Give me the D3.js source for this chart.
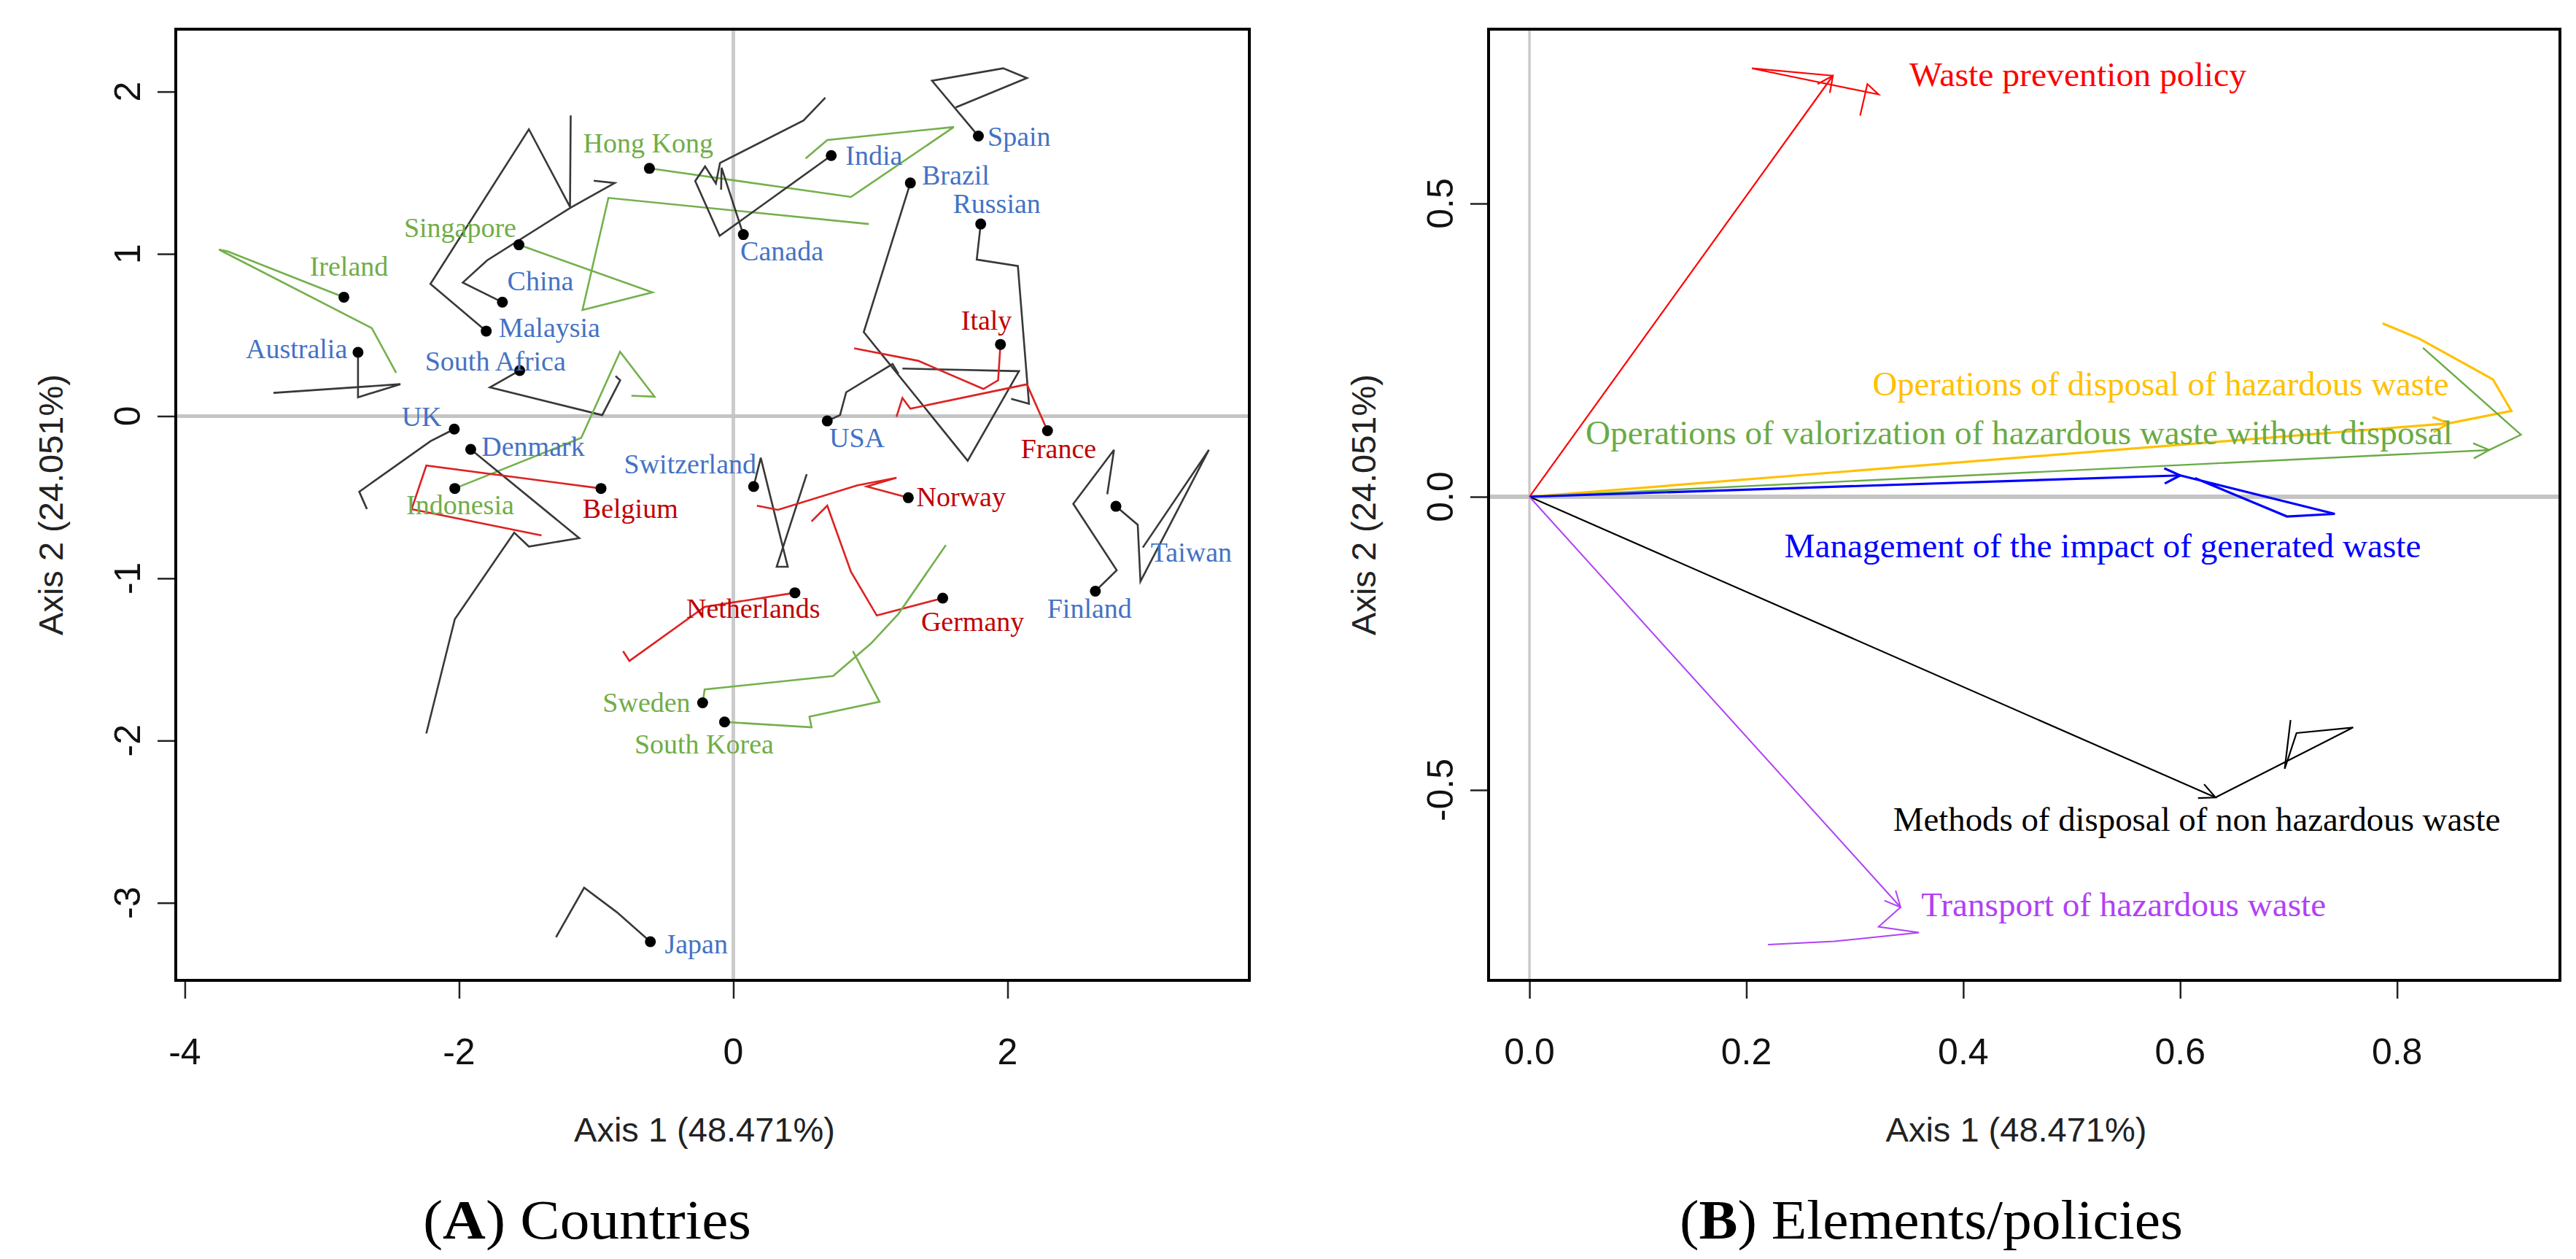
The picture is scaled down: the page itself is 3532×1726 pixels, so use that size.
<!DOCTYPE html>
<html><head><meta charset="utf-8">
<script src="https://cdn.jsdelivr.net/npm/d3@7"></script>
<style>body{margin:0;background:#fff}</style>
</head><body>
<svg id="chart" width="3532" height="1726"></svg>
<script>
// ---------- Panel A data: countries ----------
const countries = ["Hong Kong","Singapore","Ireland","Australia","China","Malaysia","South Africa","Indonesia","UK","Denmark","Belgium","Switzerland","Norway","Netherlands","Germany","Sweden","South Korea","Japan","Finland","Taiwan","Spain","India","Canada","Brazil","USA","Russian","Italy","France"];
const countryGroup = ["g","g","g","b","b","b","b","g","b","b","r","b","r","r","r","g","g","b","b","b","b","b","b","b","b","b","r","r"];
const dotX = [-0.612,-1.564,-2.840,-2.737,-1.684,-1.802,-1.558,-2.031,-2.035,-1.915,-0.965,0.148,1.276,0.449,1.527,-0.224,-0.064,-0.605,2.640,2.790,1.787,0.714,0.073,1.291,0.685,1.804,1.948,2.291];
const dotY = [1.527,1.056,0.733,0.393,0.702,0.524,0.281,-0.446,-0.080,-0.205,-0.446,-0.434,-0.503,-1.089,-1.122,-1.767,-1.885,-3.240,-1.079,-0.556,1.726,1.606,1.119,1.437,-0.030,1.184,0.442,-0.090];
const labelX = [-0.621,-1.992,-2.803,-3.185,-1.407,-1.341,-1.735,-1.992,-2.273,-1.460,-0.751,-0.315,1.661,0.145,1.745,-0.633,-0.213,-0.270,2.597,3.340,2.084,1.026,0.354,1.622,0.902,1.921,1.846,2.372];
const labelY = [1.682,1.160,0.923,0.414,0.835,0.548,0.341,-0.545,-0.004,-0.185,-0.569,-0.295,-0.498,-1.187,-1.268,-1.767,-2.021,-3.255,-1.187,-0.838,1.726,1.606,1.020,1.485,-0.134,1.311,0.592,-0.201];
const trails = [
  [[0.858,1.351],[1.608,1.782],[0.685,1.702],[0.527,1.588]],
  [[-0.590,0.763],[-1.100,0.654],[-0.911,1.345],[0.988,1.184]],
  [[-3.689,1.016],[-3.750,1.026],[-2.636,0.542],[-2.459,0.267]],
  [[-2.737,0.116],[-2.428,0.197],[-3.354,0.143]],
  [[-1.973,0.823],[-1.796,0.960],[-1.186,1.285],[-0.865,1.437],[-1.018,1.451]],
  [[-2.209,0.815],[-1.491,1.768],[-1.191,1.290],[-1.186,1.853]],
  [[-1.775,0.177],[-0.956,0.006],[-0.825,0.221],[-0.859,0.247]],
  [[-1.109,-0.134],[-0.826,0.397],[-0.575,0.120],[-0.743,0.126]],
  [[-2.209,-0.155],[-2.728,-0.466],[-2.672,-0.573]],
  [[-1.124,-0.752],[-1.491,-0.804],[-1.598,-0.718],[-2.031,-1.251],[-2.239,-1.956]],
  [[-2.239,-0.305],[-2.346,-0.574],[-1.399,-0.735]],
  [[0.200,-0.257],[0.397,-0.929],[0.316,-0.929],[0.535,-0.358]],
  [[0.973,-0.434],[1.190,-0.380],[0.902,-0.427],[0.325,-0.578],[0.172,-0.552]],
  [[-0.209,-1.176],[-0.758,-1.509],[-0.804,-1.449]],
  [[1.046,-1.229],[0.858,-0.960],[0.685,-0.552],[0.570,-0.649]],
  [[-0.209,-1.685],[0.728,-1.602],[1.003,-1.402],[1.204,-1.219],[1.550,-0.795]],
  [[0.570,-1.918],[0.555,-1.853],[1.066,-1.761],[0.872,-1.449]],
  [[-0.849,-3.058],[-1.088,-2.907],[-1.293,-3.212]],
  [[2.796,-0.950],[2.479,-0.541],[2.776,-0.208],[2.727,-0.481]],
  [[2.949,-0.670],[2.969,-1.019],[3.468,-0.208],[2.986,-0.810]],
  [[1.449,2.067],[1.968,2.144],[2.141,2.084],[1.622,1.903]],
  [[-0.100,1.111],[-0.278,1.449],[-0.206,1.539],[-0.127,1.434],[-0.097,1.561],[0.512,1.822],[0.671,1.963]],
  [[-0.086,1.531],[-0.089,1.396]],
  [[0.951,0.518],[1.709,-0.275],[2.083,0.277],[1.233,0.293]],
  [[0.778,0.006],[0.823,0.147],[1.161,0.321],[1.204,0.261]],
  [[1.775,0.965],[2.075,0.925],[2.156,0.076],[2.026,0.107]],
  [[1.931,0.221],[1.824,0.167],[1.348,0.341],[0.881,0.418]],
  [[2.141,0.196],[1.291,0.046],[1.233,0.112],[1.190,-0.004]]
];
const ticksAX = [-4,-2,0,2];
const ticksAY = [-3,-2,-1,0,1,2];
const domainAX = [-4.066, 3.763];
const domainAY = [-3.478, 2.385];

// ---------- Panel B data: elements / policies ----------
const elements = ["Waste prevention policy","Operations of disposal of hazardous waste","Operations of valorization of hazardous waste without disposal","Management of the impact of generated waste","Methods of disposal of non hazardous waste","Transport of hazardous waste"];
const tipX = [0.2798,0.8477,0.8850,0.6001,0.6326,0.3422];
const tipY = [0.718,0.1252,0.0797,0.0364,-0.5128,-0.6999];
const elementTrails = [
  [[0.2051,0.7305],[0.3219,0.686],[0.3116,0.7037],[0.3049,0.650]],
  [[0.9054,0.1463],[0.8884,0.2002],[0.8206,0.2695],[0.7866,0.2957]],
  [[0.9142,0.1058],[0.8239,0.254]],
  [[0.7426,-0.0292],[0.6985,-0.0336],[0.6137,0.0318]],
  [[0.7595,-0.3934],[0.7073,-0.4029],[0.6964,-0.4639],[0.7018,-0.3806]],
  [[0.3219,-0.7332],[0.3592,-0.7431],[0.2811,-0.7582],[0.2200,-0.7637]]
];
const elemLabelX0 = [0.3504,0.3164,0.0518,0.235,0.3354,0.3612];
const elemLabelX1 = [0.6611,0.8477,0.8512,0.822,0.8952,0.7344];
const elemLabelY = [0.719,0.1918,0.1086,-0.0836,-0.550,-0.6955];
const ticksBX = [0,0.2,0.4,0.6,0.8];
const ticksBY = [-0.5,0,0.5];
const domainBX = [-0.0377, 0.9502];
const domainBY = [-0.8246, 0.7973];

// ---------- styles ----------
const groupLabelColor = {b:"#4472C4", g:"#70AD47", r:"#C00000"};
const groupLineColor = {b:"#383838", g:"#74B04C", r:"#DD2222"};
const elementColor = ["#FF0000","#FFC000","#6AAB45","#0000FF","#000000","#B041F5"];
const elementWidth = [2.2,3.2,2.4,3.2,2.2,2];

const svg = d3.select("#chart");
svg.append("rect").attr("width",3532).attr("height",1726).attr("fill","#fff");
const sans = "'Liberation Sans', Arial, Helvetica, sans-serif";
const serif = "'Liberation Serif', 'Times New Roman', serif";

const frameTop = 40, frameBottom = 1344;
const xA = d3.scaleLinear().domain(domainAX).range([241,1713]);
const yA = d3.scaleLinear().domain(domainAY).range([frameBottom,frameTop]);
const xB = d3.scaleLinear().domain(domainBX).range([2041,3510]);
const yB = d3.scaleLinear().domain(domainBY).range([frameBottom,frameTop]);

function drawAxes(x, y, xt, yt, fx, fy) {
  const [x0,x1] = x.range();
  const g = svg.append("g");
  const gx = g.append("g").attr("transform",`translate(0,${frameBottom})`)
    .call(d3.axisBottom(x).tickValues(xt).tickSize(25).tickSizeOuter(0).tickFormat(""));
  gx.select(".domain").remove();
  gx.selectAll("line").attr("stroke","#222").attr("stroke-width",2.5);
  const gy = g.append("g").attr("transform",`translate(${x0},0)`)
    .call(d3.axisLeft(y).tickValues(yt).tickSize(25).tickSizeOuter(0).tickFormat(""));
  gy.select(".domain").remove();
  gy.selectAll("line").attr("stroke","#222").attr("stroke-width",2.5);
  g.selectAll(".xl").data(xt).enter().append("text")
    .attr("x",d=>x(d)).attr("y",1442).attr("text-anchor","middle").attr("dominant-baseline","central")
    .attr("font-family",sans).attr("font-size",50).attr("fill","#111").text(fx);
  g.selectAll(".yl").data(yt).enter().append("text")
    .attr("transform",d=>`translate(${x0-66},${y(d)}) rotate(-90)`)
    .attr("text-anchor","middle").attr("dominant-baseline","central")
    .attr("font-family",sans).attr("font-size",50).attr("fill","#111").text(fy);
  g.append("text").attr("x",(x0+x1)/2-11).attr("y",1548).attr("text-anchor","middle").attr("dominant-baseline","central")
    .attr("font-family",sans).attr("font-size",47).attr("fill","#222").text("Axis 1 (48.471%)");
  g.append("text").attr("transform",`translate(${x0-172},${(frameTop+frameBottom)/2}) rotate(-90)`)
    .attr("text-anchor","middle").attr("dominant-baseline","central")
    .attr("font-family",sans).attr("font-size",47).attr("fill","#222").text("Axis 2 (24.051%)");
}
function zeroLines(x, y, wv, wh) {
  const [x0,x1] = x.range();
  svg.append("line").attr("x1",x(0)).attr("x2",x(0)).attr("y1",frameTop).attr("y2",frameBottom)
    .attr("stroke","#cbcbcb").attr("stroke-width",wv);
  svg.append("line").attr("x1",x0).attr("x2",x1).attr("y1",y(0)).attr("y2",y(0))
    .attr("stroke","#c4c4c4").attr("stroke-width",wh);
}
function frame(x) {
  const [x0,x1] = x.range();
  svg.append("rect").attr("x",x0).attr("y",frameTop).attr("width",x1-x0).attr("height",frameBottom-frameTop)
    .attr("fill","none").attr("stroke","#000").attr("stroke-width",4);
}

// ---------- Panel A ----------
zeroLines(xA, yA, 5, 5);
const lineA = d3.line().x(d=>xA(d[0])).y(d=>yA(d[1]));
const gA = svg.append("g");
countries.forEach((c,i)=>{
  const pts = [[dotX[i],dotY[i]]].concat(trails[i]);
  gA.append("path").attr("d",lineA(pts)).attr("fill","none")
    .attr("stroke",groupLineColor[countryGroup[i]]).attr("stroke-width",2.6).attr("stroke-linejoin","miter");
});
countries.forEach((c,i)=>{
  gA.append("circle").attr("cx",xA(dotX[i])).attr("cy",yA(dotY[i])).attr("r",7.5).attr("fill","#000");
});
countries.forEach((c,i)=>{
  gA.append("text").attr("x",xA(labelX[i])).attr("y",yA(labelY[i]))
    .attr("text-anchor","middle").attr("dominant-baseline","central")
    .attr("font-family",serif).attr("font-size",38).attr("fill",groupLabelColor[countryGroup[i]]).text(c);
});
drawAxes(xA, yA, ticksAX, ticksAY, d=>String(d), d=>String(d));
frame(xA);

// ---------- Panel B ----------
zeroLines(xB, yB, 3.5, 6);
const lineB = d3.line().x(d=>xB(d[0])).y(d=>yB(d[1]));
const gB = svg.append("g");
function arrowHead(px,py,tx,ty,len,ang){
  const t = Math.atan2(ty-py, tx-px);
  const a1 = t-ang, a2 = t+ang;
  return `M${tx-len*Math.cos(a1)},${ty-len*Math.sin(a1)}L${tx},${ty}L${tx-len*Math.cos(a2)},${ty-len*Math.sin(a2)}`;
}
elements.forEach((e,i)=>{
  const col = elementColor[i];
  gB.append("path").attr("d",lineB([[tipX[i],tipY[i]]].concat(elementTrails[i]))).attr("fill","none")
    .attr("stroke",col).attr("stroke-width",elementWidth[i]);
  gB.append("line").attr("x1",xB(0)).attr("y1",yB(0)).attr("x2",xB(tipX[i])).attr("y2",yB(tipY[i]))
    .attr("stroke",col).attr("stroke-width",elementWidth[i]);
  gB.append("path").attr("d",arrowHead(xB(0),yB(0),xB(tipX[i]),yB(tipY[i]),24,Math.PI/7))
    .attr("fill","none").attr("stroke",col).attr("stroke-width",elementWidth[i]);
  gB.append("text").attr("x",xB(elemLabelX0[i])).attr("y",yB(elemLabelY[i]))
    .attr("dominant-baseline","central").attr("font-family",serif).attr("font-size",46)
    .attr("textLength",xB(elemLabelX1[i])-xB(elemLabelX0[i])).attr("lengthAdjust","spacingAndGlyphs")
    .attr("fill",col).text(e);
});
drawAxes(xB, yB, ticksBX, ticksBY, d=>d.toFixed(1), d=>d.toFixed(1));
frame(xB);

// ---------- Captions ----------
function caption(cx, letter, rest, len){
  const t = svg.append("text").attr("x",cx).attr("y",1672).attr("text-anchor","middle").attr("dominant-baseline","central")
    .attr("font-family",serif).attr("font-size",76).attr("fill","#000")
    .attr("textLength",len).attr("lengthAdjust","spacingAndGlyphs");
  t.append("tspan").text("(");
  t.append("tspan").attr("font-weight","bold").text(letter);
  t.append("tspan").text(") " + rest);
}
caption(805, "A", "Countries", 450);
caption(2648, "B", "Elements/policies", 690);
</script>
</body></html>
